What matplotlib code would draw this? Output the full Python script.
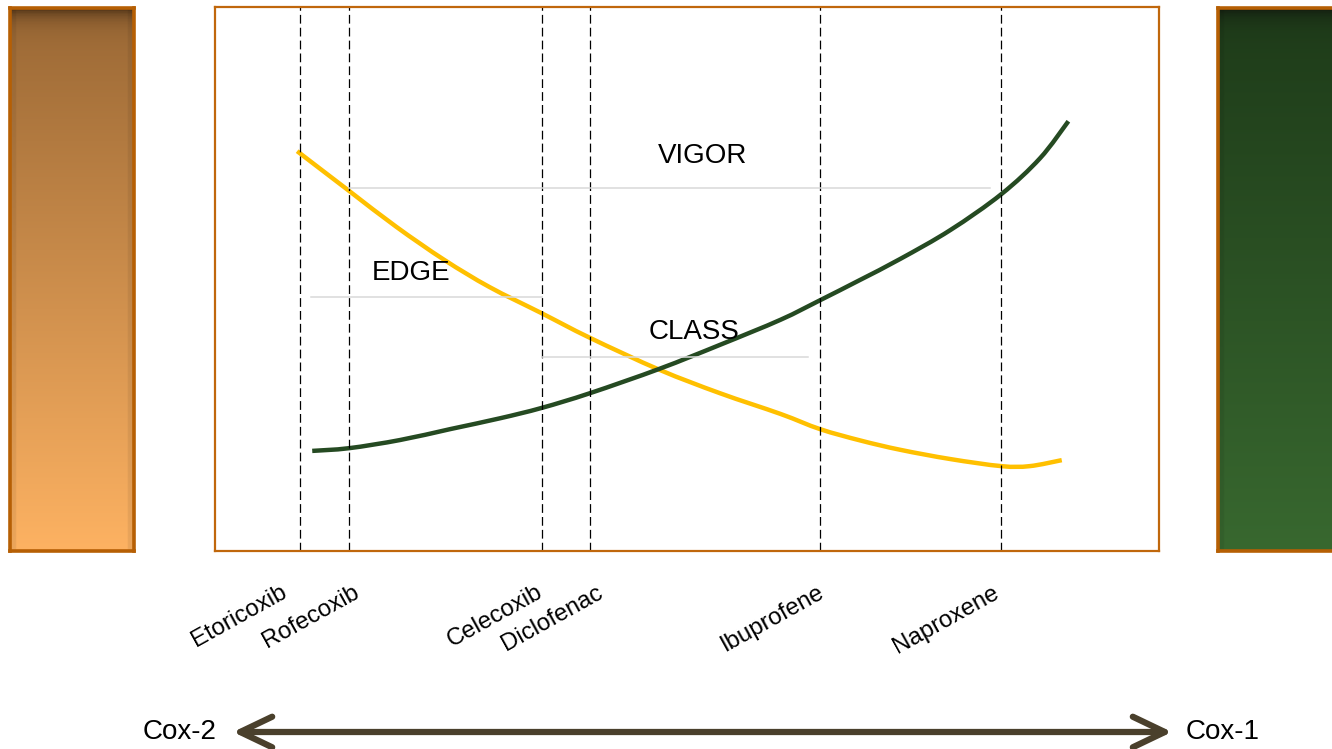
import matplotlib.pyplot as plt
import numpy as np
from matplotlib.colors import to_rgb
from matplotlib.path import Path
from matplotlib.patches import PathPatch, FancyArrowPatch

plt.rcParams['font.family'] = ['Liberation Sans', 'DejaVu Sans']

# drug positions along the Cox-2 -> Cox-1 selectivity axis (0-100)
drugs = ['Etoricoxib', 'Rofecoxib', 'Celecoxib', 'Diclofenac', 'Ibuprofene', 'Naproxene']
drug_x = [9.0, 14.2, 34.6, 39.7, 64.1, 83.3]

# yellow curve (falls from Cox-2 to Cox-1)
yellow_x = [8.7, 14.2, 19.2, 24.3, 29.1, 34.5, 39.7, 47.1, 53.5, 59.9, 64.1, 68.4, 72.6, 77.9, 83.3, 86.3, 89.7]
yellow_y = [73.5, 66.2, 59.6, 53.5, 48.5, 43.8, 39.2, 33.3, 29.0, 25.2, 22.4, 20.3, 18.6, 16.9, 15.6, 15.6, 16.7]

# green curve (rises from Cox-2 to Cox-1)
green_x = [10.3, 14.2, 19.6, 24.9, 30.2, 34.6, 39.7, 47.1, 53.5, 59.9, 64.1, 68.3, 72.6, 77.9, 83.3, 87.4, 90.4]
green_y = [18.4, 18.9, 20.4, 22.4, 24.4, 26.3, 29.0, 33.5, 37.9, 42.5, 46.1, 49.8, 53.7, 59.0, 65.6, 72.2, 79.0]

# trial names with their reference lines
trials = ['VIGOR', 'EDGE', 'CLASS']
trial_text_x = [51.6, 20.8, 50.7]
trial_text_y = [72.6, 51.1, 40.3]
trial_line_y = [66.7, 46.7, 35.7]
trial_line_x0 = [14.2, 10.2, 34.6]
trial_line_x1 = [82.1, 34.6, 62.8]

# small nudges of the rotated drug labels
label_dx = [-1.0, 1.5, 0.5, 1.8, 0.8, 0.2]

W, H = 1332, 749
fig = plt.figure(figsize=(W / 100, H / 100), dpi=100)
border = '#b65f04'


def gradient_bar(rect, top, bottom, dark):
    bx = fig.add_axes(rect)
    n, m = 200, 60
    t = np.linspace(0, 1, n)[:, None, None]
    img = (1 - t) * np.array(to_rgb(top)) + t * np.array(to_rgb(bottom))
    img = np.repeat(img, m, axis=1)
    # dark band on top and slightly darker sides
    shade = np.exp(-np.linspace(0, 1, n) * 60)[:, None, None]
    img = img * (1 - shade) + np.array(to_rgb(dark)) * shade
    side = np.ones(m)
    side[:3] = 0.93
    side[-3:] = 0.93
    img = img * side[None, :, None]
    bx.imshow(img, aspect='auto', extent=(0, 1, 0, 1))
    bx.set_xticks([])
    bx.set_yticks([])
    for s in bx.spines.values():
        s.set_color(border)
        s.set_linewidth(2.6)
    return bx


def px_rect(x0, y0, x1, y1):
    return [x0 / W, 1 - y1 / H, (x1 - x0) / W, (y1 - y0) / H]


def smooth_curve(ax, xs, ys, **kw):
    # catmull-rom through the read points, drawn as cubic bezier segments
    p = np.column_stack([xs, ys])
    p = np.vstack([p[0], p, p[-1]])
    verts = [p[1]]
    codes = [Path.MOVETO]
    for i in range(1, len(p) - 2):
        c1 = p[i] + (p[i + 1] - p[i - 1]) / 6
        c2 = p[i + 1] - (p[i + 2] - p[i]) / 6
        verts += [c1, c2, p[i + 1]]
        codes += [Path.CURVE4] * 3
    ax.add_patch(PathPatch(Path(verts, codes), fill=False, **kw))


gradient_bar(px_rect(10, 8, 134, 551), '#9a6835', '#fdb262', '#553719')
gradient_bar(px_rect(1218, 8, 1340, 551), '#1e3b19', '#38682f', '#141f10')

ax = fig.add_axes(px_rect(215, 7, 1159, 551))
ax.set_xlim(0, 100)
ax.set_ylim(0, 100)
ax.set_xticks([])
ax.set_yticks([])
for s in ax.spines.values():
    s.set_color('#c0670c')
    s.set_linewidth(1.6)

for x in drug_x:
    ax.axvline(x, color='black', lw=0.9, dashes=(7, 3.3))

for i in range(len(trials)):
    ax.plot([trial_line_x0[i], trial_line_x1[i]], [trial_line_y[i]] * 2, color='#d9d9d9', lw=1.1)
    ax.text(trial_text_x[i], trial_text_y[i], trials[i], fontsize=20, ha='center', va='center')

smooth_curve(ax, yellow_x, yellow_y, edgecolor='#ffc000', lw=3.2, capstyle='butt')
smooth_curve(ax, green_x, green_y, edgecolor='#254a22', lw=3.2, capstyle='butt')

for i in range(len(drugs)):
    ax.text(drug_x[i] + label_dx[i], -5.6, drugs[i], rotation=29, fontsize=17.3,
            ha='right', va='top', clip_on=False)

# Cox-2 <-> Cox-1 arrow
ay = 1 - 732 / H
fig.patches.append(FancyArrowPatch(
    (233 / W, ay), (1172 / W, ay), transform=fig.transFigure,
    arrowstyle='<->,head_length=2.3,head_width=1.1', mutation_scale=10,
    lw=4.5, color='#4a402c', shrinkA=0, shrinkB=0, capstyle='round', joinstyle='round'))
fig.text(217 / W, ay, 'Cox-2', fontsize=20, ha='right', va='center')
fig.text(1186 / W, ay, 'Cox-1', fontsize=20, ha='left', va='center')

fig.savefig('out.png', dpi=100)
